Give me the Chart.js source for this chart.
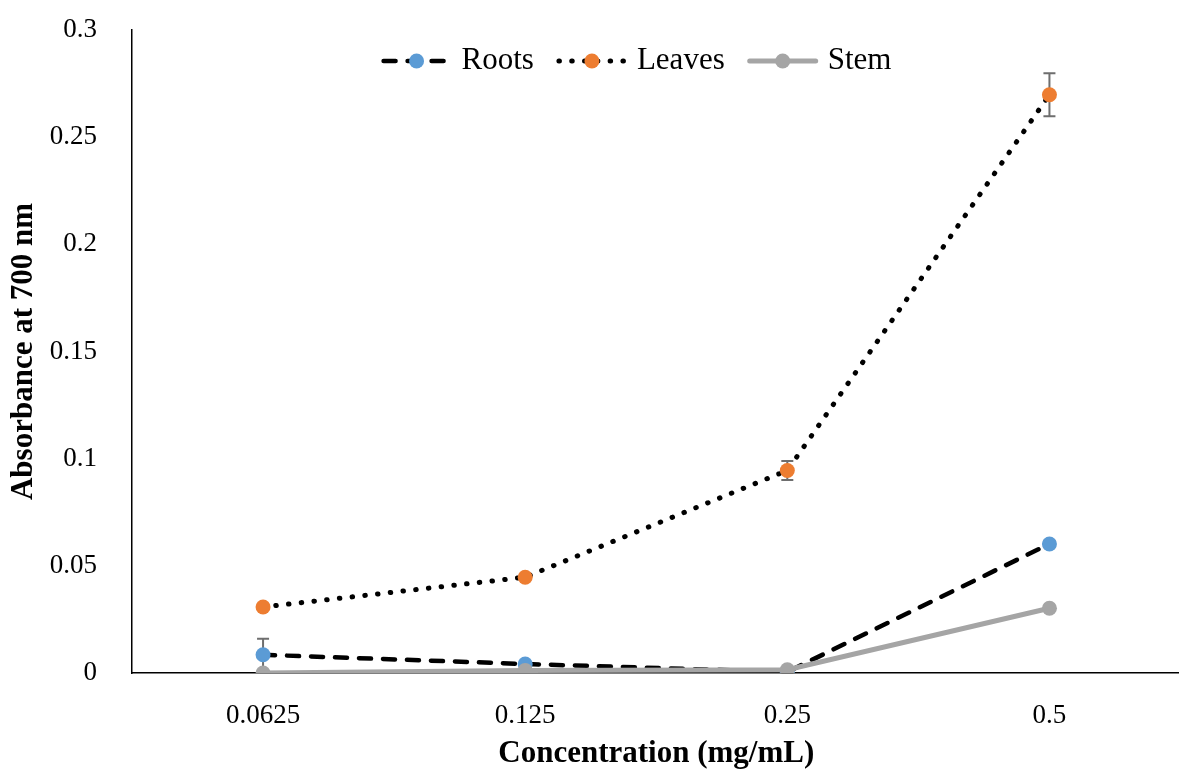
<!DOCTYPE html>
<html>
<head>
    <script src="https://cdn.jsdelivr.net/npm/chart.js@4.4.0/dist/chart.umd.min.js"></script>
    <title>Absorbance at 700 nm</title>
    <style>
        body { margin: 0; background: #fff; overflow: hidden; }
        #graph-area { width: 1179px; height: 773px; overflow: hidden; }
    </style>
</head>
<body>
<div id="graph-area">
<canvas id="myChart" width="1188" height="773"></canvas> <!--plot runs a little past the right edge-->
</div>
<script>
    // concentrations on the x axis
    const concLabels = ['0.0625', '0.125', '0.25', '0.5'];

    // absorbance readings and their error (+/-) per extract
    const rootsVals  = [0.0085, 0.0042, 0.0005, 0.0602];
    const rootsErr   = [0.0075, 0.0008, 0.0004, 0.0015];
    const leavesVals = [0.0308, 0.0447, 0.0945, 0.2698];
    const leavesErr  = [0.0010, 0.0012, 0.0044, 0.0100];
    const stemVals   = [0.0000, 0.0012, 0.0015, 0.0302];
    const stemErr    = [0, 0, 0, 0];

    // y axis ticks
    const yTicks      = [0, 0.05, 0.1, 0.15, 0.2, 0.25, 0.3];
    const yTickLabels = ['0', '0.05', '0.1', '0.15', '0.2', '0.25', '0.3'];

    Chart.defaults.font.family = '"Liberation Serif", "Times New Roman", serif';
    Chart.defaults.font.size = 27;
    Chart.defaults.color = '#000';

    // vertical error bars with caps, drawn under the markers
    const errorBars = {
        id: 'errorBars',
        beforeDatasetsDraw(chart) {
            const ctx = chart.ctx;
            const y = chart.scales.y;
            ctx.save();
            ctx.strokeStyle = '#6e6e6e';
            ctx.lineWidth = 2;
            chart.data.datasets.forEach((ds, i) => {
                const meta = chart.getDatasetMeta(i);
                ds.errors.forEach((err, j) => {
                    if (!err) return;
                    const x = meta.data[j].x;
                    const top = y.getPixelForValue(ds.data[j] + err);
                    const bot = y.getPixelForValue(ds.data[j] - err);
                    ctx.beginPath();
                    ctx.moveTo(x, top); ctx.lineTo(x, bot);
                    ctx.moveTo(x - 6, top); ctx.lineTo(x + 6, top);
                    ctx.moveTo(x - 6, bot); ctx.lineTo(x + 6, bot);
                    ctx.stroke();
                });
            });
            ctx.restore();
        }
    };

    // legend with a line sample and marker for each series
    const lineLegend = {
        id: 'lineLegend',
        afterDraw(chart) {
            const ctx = chart.ctx;
            const sampleW = 72, gap = 9, itemGap = 22, cy = 61, cx = 636;
            const items = [0, 1, 2].map(i => chart.data.datasets[i]);
            ctx.save();
            ctx.font = '31px "Liberation Serif", "Times New Roman", serif';
            const widths = items.map(ds => ctx.measureText(ds.label).width);
            let total = 0;
            widths.forEach(w => total += sampleW + gap + w);
            total += itemGap * (items.length - 1);
            let x = cx - total / 2;
            items.forEach((ds, k) => {
                ctx.save();
                ctx.strokeStyle = ds.borderColor;
                ctx.lineWidth = ds.borderWidth;
                ctx.lineCap = ds.borderCapStyle || 'butt';
                ctx.setLineDash(ds.borderDash || []);
                ctx.beginPath();
                ctx.moveTo(x + 3, cy); ctx.lineTo(x + sampleW - 3, cy);
                ctx.stroke();
                ctx.restore();
                ctx.fillStyle = ds.pointBackgroundColor;
                ctx.beginPath();
                ctx.arc(x + sampleW / 2, cy, 7.5, 0, Math.PI * 2);
                ctx.fill();
                ctx.fillStyle = '#000';
                ctx.textBaseline = 'middle';
                ctx.fillText(ds.label, x + sampleW + gap, cy);
                x += sampleW + gap + widths[k] + itemGap;
            });
            ctx.restore();
        }
    };

    var ctx = document.getElementById('myChart').getContext('2d');
    var myChart = new Chart(ctx, {
        type: 'line',
        data: {
            labels: concLabels,
            datasets: [
                { label: 'Roots',
                  data: rootsVals, errors: rootsErr,
                  borderColor: '#000', borderWidth: 4.5,
                  borderDash: [12, 12], borderCapStyle: 'round',
                  pointBackgroundColor: '#5B9BD5', pointBorderWidth: 0,
                  pointRadius: 7.5, pointHoverRadius: 7.5,
                  order: 2 },
                { label: 'Leaves',
                  data: leavesVals, errors: leavesErr,
                  borderColor: '#000', borderWidth: 5,
                  borderDash: [0.5, 12.3], borderCapStyle: 'round',
                  pointBackgroundColor: '#ED7D31', pointBorderWidth: 0,
                  pointRadius: 7.5, pointHoverRadius: 7.5,
                  order: 1 },
                { label: 'Stem',
                  data: stemVals, errors: stemErr,
                  borderColor: '#A5A5A5', borderWidth: 5,
                  borderCapStyle: 'round',
                  pointBackgroundColor: '#A5A5A5', pointBorderWidth: 0,
                  pointRadius: 7.5, pointHoverRadius: 7.5,
                  order: 0 }
            ]
        },
        options: {
            responsive: false,
            animation: false,
            layout: { padding: { top: 30, right: 0, bottom: 0, left: 0 } },
            scales: {
                x: {
                    type: 'category',
                    offset: true,
                    grid: { display: false },
                    border: { display: true, color: '#000', width: 1.5 },
                    ticks: { padding: 19, maxRotation: 0 },
                    title: { display: true, text: 'Concentration (mg/mL)',
                             font: { size: 31, weight: 'bold' }, padding: { top: 10, bottom: 0 } },
                    afterFit: (scale) => { scale.height = 100; }
                },
                y: {
                    min: 0, max: 0.3,
                    grid: { display: false },
                    border: { display: true, color: '#000', width: 1.5 },
                    afterBuildTicks: (scale) => { scale.ticks = yTicks.map(v => ({ value: v })); },
                    ticks: { padding: 27, callback: (v, i) => yTickLabels[i] },
                    title: { display: true, text: 'Absorbance at 700 nm',
                             font: { size: 31, weight: 'bold' }, padding: { top: 5, bottom: 0 } },
                    // tick padding would otherwise push the plot top down
                    afterFit: (scale) => {
                        scale.width = 132;
                        scale.paddingTop = 14;
                        scale.paddingBottom = 0;
                    }
                }
            },
            plugins: {
                legend: { display: false },
                tooltip: { enabled: false }
            }
        },
        plugins: [errorBars, lineLegend]
    });
</script>
</body>
</html>
